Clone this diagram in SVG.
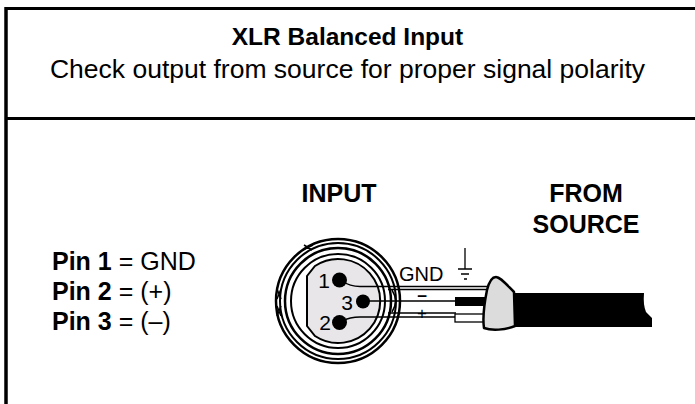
<svg xmlns="http://www.w3.org/2000/svg" width="695" height="404" viewBox="0 0 695 404">
<style>
.t{font-family:"Liberation Sans",Arial,sans-serif;fill:#000}
.b{font-weight:bold}
.ln{stroke:#000;fill:none}
.wire{stroke:#000;stroke-width:1.3;fill:none}
</style>
<rect width="695" height="404" fill="#fff"/>
<g id="frame">
<path class="ln" stroke-width="3" d="M5 8.5H695"/>
<path class="ln" stroke-width="3.5" d="M6 7V404"/>
<path class="ln" stroke-width="3" d="M6 118.5H695"/>
</g>
<g id="title">
<text class="t b" x="347.5" y="45" font-size="24.5" text-anchor="middle">XLR Balanced Input</text>
<text class="t" x="347.5" y="78" font-size="26.5" text-anchor="middle">Check output from source for proper signal polarity</text>
</g>
<g id="pins-legend">
<text class="t" x="52" y="270" font-size="25"><tspan class="b">Pin 1</tspan> = GND</text>
<text class="t" x="52" y="300" font-size="25"><tspan class="b">Pin 2</tspan> = (+)</text>
<text class="t" x="52" y="330" font-size="25"><tspan class="b">Pin 3</tspan> = (–)</text>
</g>
<g id="input-label">
<text class="t b" x="339" y="202" font-size="25" text-anchor="middle">INPUT</text>
</g>
<g id="source-label">
<text class="t b" x="586" y="202" font-size="25" text-anchor="middle">FROM</text>
<text class="t b" x="586" y="233" font-size="25" text-anchor="middle">SOURCE</text>
</g>
<g id="xlr-connector">
<circle cx="338" cy="301" r="62" fill="#fff" stroke="#000" stroke-width="2.5"/>
<circle class="ln" cx="338" cy="301" r="58" stroke-width="2"/>
<circle class="ln" cx="338" cy="301" r="53" stroke-width="2.5"/>
<circle class="ln" cx="338" cy="301" r="47" stroke-width="2"/>
<path class="ln" stroke-width="1.5" d="M277 289L281 299M281 289L277 299M277 306L281 316M281 306L277 316M303 250L313 245M304 245L312 250"/>
<path d="M307 276L315 266A42 42 0 1 1 315 336L307 326Z" fill="#e8e6e8" stroke="#000" stroke-width="2"/>
<path class="ln" stroke-width="1.5" d="M392 290Q399 301 392 312"/>
<circle cx="339.5" cy="280" r="7.5"/>
<circle cx="363" cy="301.5" r="7"/>
<circle cx="339.5" cy="322.5" r="7.5"/>
<text class="t" x="330" y="288" font-size="21" text-anchor="end">1</text>
<text class="t" x="353" y="310" font-size="21" text-anchor="end">3</text>
<text class="t" x="331" y="330" font-size="21" text-anchor="end">2</text>
</g>
<g id="connectors">
<path class="wire" d="M342 281Q350 286.5 360 286.5H488"/>
<path class="wire" d="M388 289.5H486"/>
<path class="wire" d="M363 301H456"/>
<path class="wire" d="M388 313H456"/>
<path class="wire" d="M342 321Q350 317 360 317H456"/>
</g>
<g id="wire-labels">
<text class="t" x="399" y="280.5" font-size="20">GND</text>
<text class="t b" x="422" y="300.5" font-size="17.5" text-anchor="middle">–</text>
<text class="t" x="422" y="318.5" font-size="17" text-anchor="middle">+</text>
<path class="ln" stroke-width="1.3" d="M465 248V269M458 269H472M461 274H469M464 279H467"/>
</g>
<g id="cable">
<rect x="455" y="297" width="30" height="9" fill="#000"/>
<rect x="455" y="314" width="30" height="8" fill="#fff" stroke="#000" stroke-width="1.3"/>
<path d="M512 293H644Q643 305 646 312L652 318V327H512Z" fill="#000"/>
<path d="M484 328C482 315 485 300 487 290C489 282 492 277 496 277C500 277 505 283 514 292L515 326C505 330 492 331 484 328Z" fill="#dcdcdc" stroke="#000" stroke-width="2.5" stroke-linejoin="round"/>
</g>
</svg>
